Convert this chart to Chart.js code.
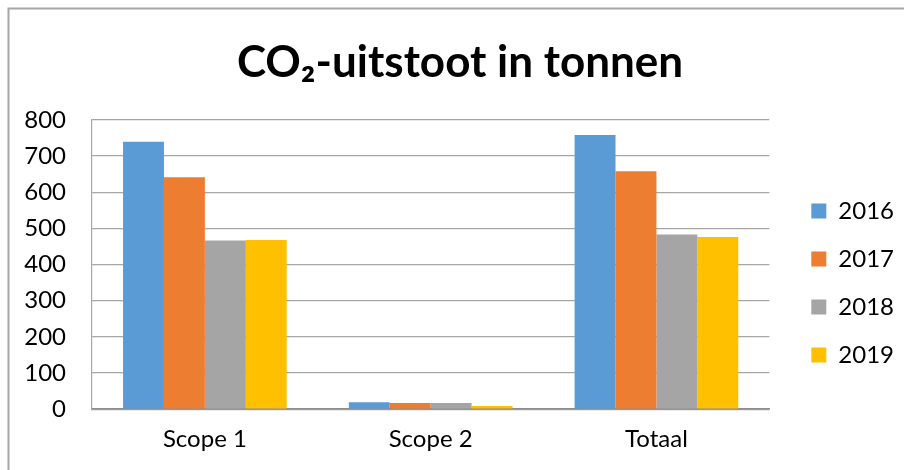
<!DOCTYPE html>
<html>
<head>
<meta charset="utf-8">
<script src="https://cdn.jsdelivr.net/npm/chart.js@4"></script>
<style>
  html, body { margin: 0; padding: 0; background: #fff; }
  #wrap { width: 904px; height: 470px; position: relative; }
</style>
</head>
<body>
<div id="wrap"><canvas id="co2Chart"></canvas></div>
<script>
const categories = ['Scope 1', 'Scope 2', 'Totaal'];
const years = ['2016', '2017', '2018', '2019'];
const values2016 = [739, 19, 758];
const values2017 = [641, 17, 658];
const values2018 = [466, 17, 483];
const values2019 = [468, 9, 476];
const yTicks = [0, 100, 200, 300, 400, 500, 600, 700, 800];

const colors = ['#5B9BD5', '#ED7D31', '#A5A5A5', '#FFC000'];
const FONT = 'Lato, "Open Sans", sans-serif';

// grey frame around the chart like the office export
const framePlugin = {
    id: 'frame',
    beforeDraw(chart) {
        const c = chart.ctx;
        c.save();
        c.strokeStyle = '#a6a6a6';
        c.lineWidth = 2;
        c.beginPath();
        c.moveTo(8.5, chart.height);
        c.lineTo(8.5, 8.5);
        c.lineTo(chart.width, 8.5);
        c.stroke();
        c.restore();
    }
};

const ctx = document.getElementById('co2Chart').getContext('2d');

new Chart(ctx, {
    type: 'bar',
    data: {
        labels: categories,
        datasets: [values2016, values2017, values2018, values2019].map((vals, i) => ({
            label: years[i],
            data: vals,
            backgroundColor: colors[i],
            borderWidth: 0,
            barPercentage: 1,
            categoryPercentage: 0.725
        }))
    },
    options: {
        responsive: true,
        maintainAspectRatio: false,
        animation: false,
        layout: { padding: { left: 16, top: 14, right: 0, bottom: 0 } },
        plugins: {
            title: {
                display: true,
                text: 'CO₂-uitstoot in tonnen',
                color: '#000',
                font: { family: FONT, size: 44, weight: 'bold' },
                padding: { top: 22, bottom: 31 }
            },
            legend: {
                position: 'right',
                // empty title only pushes the items down a bit
                title: { display: true, text: '', font: { size: 10 }, padding: { top: 70, bottom: 0 } },
                labels: {
                    color: '#000',
                    font: { family: FONT, size: 24 },
                    boxWidth: 15,
                    boxHeight: 15,
                    padding: 24
                }
            },
            tooltip: { enabled: false }
        },
        scales: {
            x: {
                grid: { display: false, drawTicks: false },
                border: { display: true, color: '#8c8c8c', width: 1.5 },
                ticks: { color: '#000', font: { family: FONT, size: 24 }, padding: 16 }
            },
            y: {
                min: 0,
                max: 800,
                afterBuildTicks: axis => { axis.ticks = yTicks.map(v => ({ value: v })); },
                afterFit: axis => { axis.width = 76; },
                grid: { color: '#a6a6a6', lineWidth: 1.2, drawTicks: false },
                border: { display: true, color: '#a6a6a6', width: 1.2 },
                ticks: { color: '#000', font: { family: FONT, size: 24 }, padding: 26 }
            },
            // empty spacer between plot and legend
            gap: {
                type: 'linear',
                position: 'right',
                afterFit: axis => { axis.width = 18; },
                grid: { display: false, drawTicks: false },
                border: { display: false },
                ticks: { display: false }
            }
        }
    },
    plugins: [framePlugin]
});
</script>
</body>
</html>
